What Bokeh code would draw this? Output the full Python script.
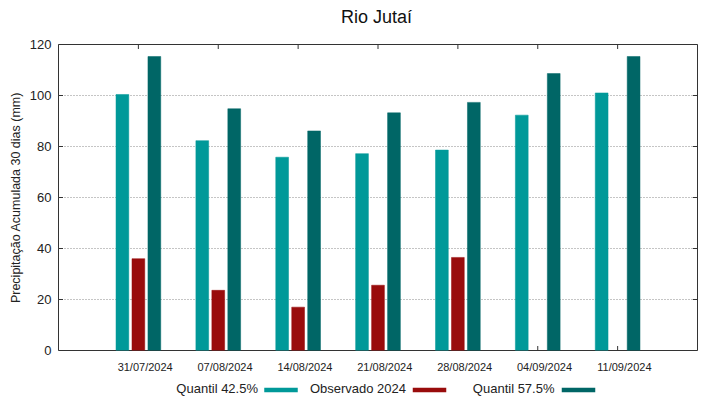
import numpy as np
from bokeh.plotting import figure
from bokeh.models import Range1d, LinearAxis, FixedTicker, ColumnDataSource
from bokeh.core.properties import value
from bokeh.layouts import column
from bokeh.embed import file_html
from bokeh.resources import INLINE

# ---- data ----
categories = ["31/07/2024", "07/08/2024", "14/08/2024", "21/08/2024",
              "28/08/2024", "04/09/2024", "11/09/2024"]
quantil_425 = [100.4, 82.3, 75.8, 77.2, 78.6, 92.3, 101.0]
observado_2024 = [36.0, 23.6, 17.0, 25.6, 36.5, None, None]
quantil_575 = [115.3, 94.8, 86.1, 93.2, 97.3, 108.6, 115.3]
series_names = ["Quantil 42.5%", "Observado 2024", "Quantil 57.5%"]
series_colors = ["#009999", "#990c0c", "#006666"]
y_ticks = [0, 20, 40, 60, 80, 100, 120]
title_text = "Rio Jutaí"
y_label = "Precipitação Acumulada 30 dias (mm)"

FONT = "Liberation Sans"
W = 703
n = len(categories)
xs = list(range(n))
x_lo, x_hi = -1, n
label_shift = 0.085  # tick labels sit slightly right of the tick marks


def strip(height):
    """A bare figure whose frame is aligned with the plot frame (x in page pixels)."""
    f = figure(width=W, height=height, x_range=Range1d(58, 697), y_range=Range1d(0, height),
               output_backend="svg", toolbar_location=None,
               min_border_left=0, min_border_right=0, min_border_top=0, min_border_bottom=0)
    f.axis.visible = False
    f.grid.visible = False
    f.outline_line_color = None
    f.background_fill_color = "white"
    f.border_fill_color = "white"
    return f


# ---- title strip ----
TT_H = 28
tt = strip(TT_H)
tt.text(x=[376], y=[12], text=[title_text], text_align="center", text_baseline="middle",
        text_font=value(FONT), text_font_size="18px", text_color="#111111")

# ---- main plot ----
p = figure(width=W, height=347, x_range=Range1d(x_lo, x_hi), y_range=Range1d(y_ticks[0], y_ticks[-1]),
           output_backend="svg", toolbar_location=None,
           x_axis_location=None, y_axis_location=None,
           min_border_left=58, min_border_right=6, min_border_top=16, min_border_bottom=24)
p.extra_x_ranges = {"lab": Range1d(x_lo - label_shift, x_hi - label_shift)}

p.outline_line_color = "#333333"
p.outline_line_width = 1
p.background_fill_color = "white"
p.border_fill_color = "white"

# grid
p.xgrid.visible = False
p.ygrid.ticker = FixedTicker(ticks=y_ticks[1:-1])
p.ygrid.grid_line_color = "#8a8a8a"
p.ygrid.grid_line_dash = "1 2"
p.ygrid.grid_line_width = 1

# inward tick marks on all four sides (half of each dash is clipped by the frame)
tick_col = "#333333"
p.scatter(x=xs, y=[y_ticks[0]] * n, marker="dash", angle=np.pi / 2, size=9, line_color=tick_col, line_width=1)
p.scatter(x=xs, y=[y_ticks[-1]] * n, marker="dash", angle=np.pi / 2, size=9, line_color=tick_col, line_width=1)
p.scatter(x=[x_lo] * len(y_ticks), y=y_ticks, marker="dash", size=9, line_color=tick_col, line_width=1)
p.scatter(x=[x_hi] * len(y_ticks), y=y_ticks, marker="dash", size=9, line_color=tick_col, line_width=1)

# bottom labels (slightly shifted)
ax_bl = LinearAxis(x_range_name="lab", ticker=FixedTicker(ticks=xs))
ax_bl.axis_line_color = None
ax_bl.major_tick_line_color = None
ax_bl.minor_tick_line_color = None
ax_bl.major_tick_in = 0
ax_bl.major_tick_out = 0
ax_bl.major_label_overrides = {i: c for i, c in enumerate(categories)}
ax_bl.major_label_text_font = FONT
ax_bl.major_label_text_font_size = "11px"
ax_bl.major_label_text_color = "#222222"
ax_bl.major_label_standoff = 10
p.add_layout(ax_bl, "below")

# left axis
ax_l = LinearAxis(ticker=FixedTicker(ticks=y_ticks), axis_label=y_label)
ax_l.axis_line_color = None
ax_l.major_tick_line_color = None
ax_l.minor_tick_line_color = None
ax_l.major_tick_in = 0
ax_l.major_tick_out = 0
ax_l.major_label_text_font = FONT
ax_l.major_label_text_font_size = "13px"
ax_l.major_label_text_color = "#222222"
ax_l.major_label_standoff = 7
ax_l.axis_label_text_font = FONT
ax_l.axis_label_text_font_size = "12.5px"
ax_l.axis_label_text_font_style = "normal"
ax_l.axis_label_text_color = "#222222"
ax_l.axis_label_standoff = 4
p.add_layout(ax_l, "left")

# bars
offsets = [-0.2, 0.0, 0.2]
bar_w = 0.16
all_series = [quantil_425, observado_2024, quantil_575]
for vals, off, col in zip(all_series, offsets, series_colors):
    idx = [i for i, v in enumerate(vals) if v is not None]
    src = ColumnDataSource(dict(x=[xs[i] + off for i in idx], top=[vals[i] for i in idx]))
    p.vbar(x="x", top="top", bottom=0, width=bar_w, source=src,
           fill_color=col, line_color=col, line_width=0.5)

# ---- legend strip (text followed by sample, gnuplot style) ----
LG_H = 21
lg = strip(LG_H)
text_right = [257.5, 405.5, 554]
swatch_cx = [280.5, 429, 578]
lg.text(x=text_right, y=[8] * 3, text=series_names, text_align="right", text_baseline="middle",
        text_font=value(FONT), text_font_size="13px", text_color="#222222")
lg.rect(x=swatch_cx, y=[6.5] * 3, width=33.5, height=4.5, width_units="screen", height_units="screen",
        fill_color=series_colors, line_color=None)

layout = column(tt, p, lg, spacing=0)
open("out.html", "w").write(file_html(layout, INLINE))
